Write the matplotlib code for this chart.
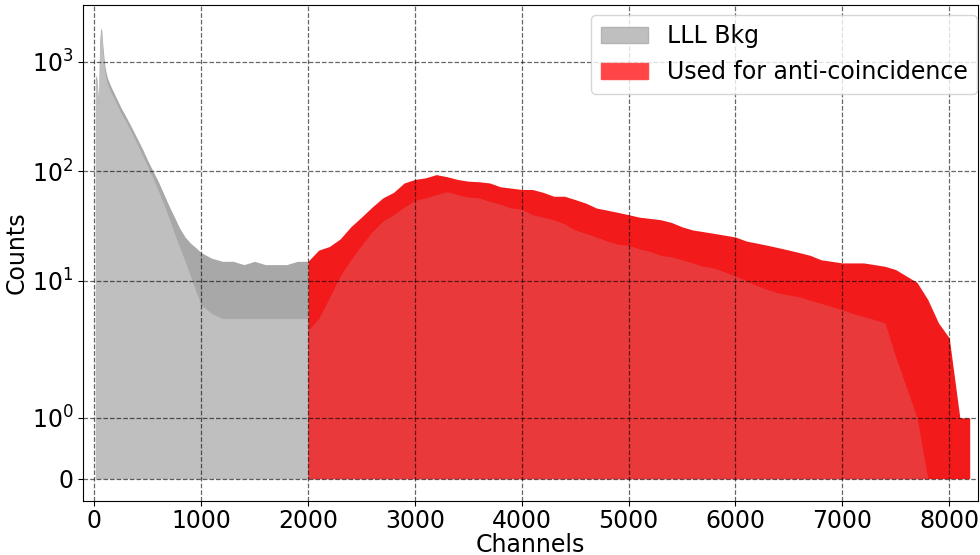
import numpy as np
import matplotlib
matplotlib.use("Agg")
import matplotlib.pyplot as plt
from matplotlib.patches import Patch

# channel readings for the low-energy background (grey) part, ch 10..2000
bkg_ch = [10, 20, 30, 40, 50, 60, 70, 80, 90, 100, 110, 125, 150, 200, 250,
          300, 350, 400, 450, 500, 550, 600, 650, 700, 750, 800, 850, 900,
          950, 1000, 1100, 1200, 1300, 1400, 1500, 1600, 1700, 1800, 1900, 2000]
# top of the spiky fringe
bkg_hi = [700, 760, 600, 420, 1500, 2050, 1900, 1400, 1100, 900, 800, 700,
          610, 480, 380, 310, 250, 200, 160, 125, 100, 80, 62, 48, 38, 30,
          25, 22, 20, 18, 16, 15, 15, 14, 15, 14, 14, 14, 15, 15]
# top of the solid fill below the fringe
bkg_lo = [650, 700, 560, 390, 1350, 1900, 1750, 1250, 1000, 800, 700, 620,
          540, 430, 340, 280, 225, 178, 140, 110, 86, 66, 50, 37, 27, 20,
          15, 11, 8, 6, 5, 4.5, 4.5, 4.5, 4.5, 4.5, 4.5, 4.5, 4.5, 4.5]

# anti-coincidence (red) part, ch 2000..8192
ac_ch = [2000, 2100, 2200, 2300, 2400, 2500, 2600, 2700, 2800, 2900, 3000,
         3100, 3200, 3300, 3400, 3500, 3600, 3700, 3800, 3900, 4000, 4100,
         4200, 4300, 4400, 4500, 4600, 4700, 4800, 4900, 5000, 5100, 5200,
         5300, 5400, 5500, 5600, 5700, 5800, 5900, 6000, 6100, 6200, 6300,
         6400, 6500, 6600, 6700, 6800, 6900, 7000, 7100, 7200, 7300, 7400,
         7500, 7600, 7700, 7800, 7900, 8000, 8100, 8192]
ac_hi = [15, 19, 20.5, 24, 31, 38, 47, 57, 64, 78, 84, 87, 93, 89, 84, 81,
         80, 78, 72, 70, 68, 68, 64, 59, 59, 55, 51, 46, 44, 42, 40, 38, 37,
         36, 34, 31, 29, 28, 27, 26, 25, 23, 22, 21, 20, 19, 18, 17, 15.5, 15,
         14.5, 14.5, 14.5, 14, 13.5, 12.6, 11, 9.6, 6.7, 4.1, 3, 1, 1]
ac_lo = [3.5, 4.5, 7, 11, 15.5, 21, 28, 35, 40, 47, 54, 57, 61, 65, 61, 58,
         57, 53, 50, 46, 45, 40, 38, 36, 33, 29, 27, 25, 23, 21.5, 21, 19.5,
         18.5, 17, 16.5, 15.5, 14.5, 13.5, 13, 12, 11, 10, 9, 8.3, 7.7, 7.4,
         7.1, 6.6, 6.2, 5.8, 5.4, 5, 4.7, 4.4, 4.1, 2, 1.5, 1, 0, 0, 0, 0, 0]

fig, ax = plt.subplots(figsize=(9.8, 5.55), dpi=100)
fig.subplots_adjust(left=0.085, right=0.998, bottom=0.097, top=0.991)

ax.set_yscale("symlog", linthresh=2, linscale=1)

# fringe first, solid fill on top
ax.fill_between(bkg_ch, 0, bkg_hi, color=(0.66, 0.66, 0.66), lw=0)
ax.fill_between(bkg_ch, 0, bkg_lo, color=(0.75, 0.75, 0.75), lw=0)
ax.fill_between(ac_ch, 0, ac_hi, color=(0.95, 0.1, 0.1), lw=0)
ax.fill_between(ac_ch, 0, ac_lo, color=(0.914, 0.224, 0.231), lw=0)

ax.set_xlim(-103, 8270)
ax.set_ylim(-0.37, 3300)
ax.set_yticks([0, 1, 10, 100, 1000])
ax.yaxis.set_minor_locator(matplotlib.ticker.NullLocator())
ax.set_xticks([0, 1000, 2000, 3000, 4000, 5000, 6000, 7000, 8000])

ax.set_axisbelow(False)
ax.grid(True, color="black", linestyle="--", alpha=0.6, lw=0.9)

ax.tick_params(labelsize=17)
ax.tick_params(axis="x", pad=2)
ax.set_xlabel("Channels", fontsize=17, labelpad=0)
ax.set_ylabel("Counts", fontsize=17, labelpad=2)

handles = [Patch(facecolor=(0.75, 0.75, 0.75), edgecolor=(0.7, 0.7, 0.7), label="LLL Bkg"),
           Patch(facecolor=(1.0, 0.27, 0.27), edgecolor=(1.0, 0.3, 0.3), label="Used for anti-coincidence")]
ax.legend(handles=handles, loc="upper right", fontsize=17,
          bbox_to_anchor=(0.999, 0.98), borderaxespad=0)

fig.savefig("out.png", dpi=100)
